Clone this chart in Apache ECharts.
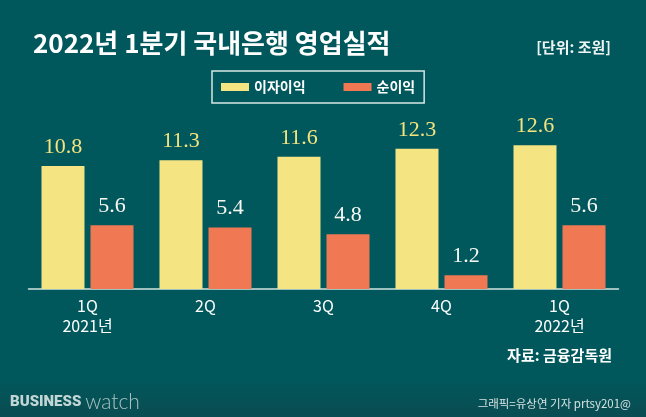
<!DOCTYPE html>
<html>
<head>
<meta charset="utf-8">
<script src="https://cdn.jsdelivr.net/npm/echarts@6/dist/echarts.min.js"></script>
<style>
html,body{margin:0;padding:0;background:#00585c;}
#chart{width:646px;height:417px;}
</style>
</head>
<body>
<div id="chart"></div>
<script>
const categories = ['1Q\n2021년', '2Q', '3Q', '4Q', '1Q\n2022년'];
const interestIncome = [10.8, 11.3, 11.6, 12.3, 12.6];
const netIncome = [5.6, 5.4, 4.8, 1.2, 5.6];
const seriesNames = ['이자이익', '순이익'];

const chart = echarts.init(document.getElementById('chart'), null, {renderer: 'canvas'});
const KR = '"Noto Sans CJK KR", "Noto Sans", sans-serif';
chart.setOption({
  backgroundColor: '#00585c',
  animation: false,
  title: [
    {text: '2022년 1분기 국내은행 영업실적', left: 28, top: 25,
     textStyle: {fontFamily: KR, fontSize: 26, fontWeight: 'bold', color: '#ffffff'}},
    {text: '[단위: 조원]', right: 30, top: 35,
     textStyle: {fontFamily: KR, fontSize: 15, fontWeight: 'bold', color: '#eef4f4'}},
    {text: '자료: 금융감독원', right: 29, top: 343,
     textStyle: {fontFamily: KR, fontSize: 15, fontWeight: 'bold', color: '#ffffff'}},
    {text: '그래픽=유상연 기자 prtsy201@', right: 10, top: 393,
     textStyle: {fontFamily: KR, fontSize: 11.5, fontWeight: 'normal', color: '#d5e2e2'}}
  ],
  graphic: [
    {type: 'rect', left: 0, top: 378, z: -1, silent: true,
     shape: {width: 646, height: 39},
     style: {fill: new echarts.graphic.LinearGradient(0, 0, 0, 1, [
       {offset: 0, color: '#00585c'}, {offset: 1, color: '#0a4c51'}])}},
    {type: 'text', left: 10, top: 392,
     style: {text: '{b|BUSINESS}{w|watch}',
       rich: {
         b: {fontFamily: 'Roboto, sans-serif', fontWeight: 900, fontSize: 15, fill: '#c3d6d6', color: '#c3d6d6'},
         w: {fontFamily: 'Lato, sans-serif', fontWeight: 300, fontSize: 21, fill: '#a9c3c3', color: '#a9c3c3', padding: [0,0,0,4]}
       }}}
  ],
  legend: {
    data: seriesNames,
    left: 212, top: 71,
    padding: [9, 9, 9, 9],
    borderColor: '#d6e6e4', borderWidth: 1.5,
    itemWidth: 28, itemHeight: 8, itemGap: 38,
    icon: 'rect',
    textStyle: {fontFamily: KR, fontSize: 14, fontWeight: 'bold', color: '#ffffff', padding: [0,0,0,0]}
  },
  grid: {left: 28.5, right: 27.5, top: 118, bottom: 128, containLabel: false},
  xAxis: {
    type: 'category', data: categories,
    axisLine: {lineStyle: {color: '#cfe3e0', width: 1.5}},
    axisTick: {show: false},
    axisLabel: {fontFamily: KR, fontSize: 16, fontWeight: 'normal', color: '#ffffff', lineHeight: 20, margin: 7}
  },
  yAxis: {type: 'value', min: 0, max: 15, show: false, splitLine: {show: false}},
  series: [
    {name: seriesNames[0], type: 'bar', data: interestIncome, barWidth: 43, barGap: '14%',
     itemStyle: {color: '#f5e582'},
     label: {show: true, position: 'top', distance: 8, fontFamily: '"Liberation Serif", serif', fontSize: 22, color: '#f4e37e'}},
    {name: seriesNames[1], type: 'bar', data: netIncome, barWidth: 43,
     itemStyle: {color: '#f07953'},
     label: {show: true, position: 'top', distance: 8, fontFamily: '"Liberation Serif", serif', fontSize: 22, color: '#f7f7f2'}}
  ]
});
</script>
</body>
</html>
